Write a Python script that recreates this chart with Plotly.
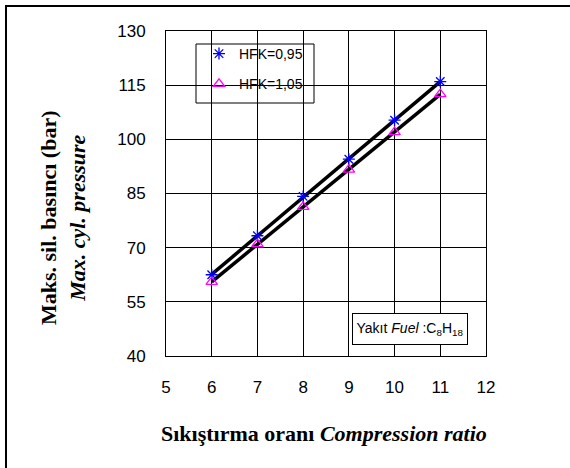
import numpy as np
import plotly.graph_objects as go

# Data
compression_ratio = [6, 7, 8, 9, 10, 11]
p_hfk_095 = [62.5, 73.3, 84.2, 94.5, 105.3, 116.0]
p_hfk_105 = [60.5, 71.0, 81.3, 91.6, 102.0, 112.5]
series_names = ["HFK=0,95", "HFK=1,05"]
x_ticks = [5, 6, 7, 8, 9, 10, 11, 12]
y_ticks = [40, 55, 70, 85, 100, 115, 130]

fig = go.Figure()

x_arr = np.array(compression_ratio, dtype=float)
for vals in (p_hfk_095, p_hfk_105):
    k, b = np.polyfit(x_arr, np.array(vals), 1)
    xs = [x_arr.min(), x_arr.max()]
    fig.add_trace(go.Scatter(x=xs, y=[k * v + b for v in xs], mode="lines",
                             line=dict(color="black", width=3.5),
                             showlegend=False, hoverinfo="skip"))

fig.add_trace(go.Scatter(x=compression_ratio, y=p_hfk_095, mode="markers",
                         name=series_names[0], legendgroup="a",
                         marker=dict(symbol="asterisk-open", size=10, color="#0000FF",
                                     line=dict(color="#0000FF", width=1.3))))
fig.add_trace(go.Scatter(x=compression_ratio, y=p_hfk_105, mode="markers",
                         name=series_names[1], legendgroup="b",
                         marker=dict(symbol="triangle-up-open", size=10,
                                     color="#FF00FF",
                                     line=dict(color="#FF00FF", width=1.3))))

L, R, T, B = 166, 84, 31, 112
W, H = 570, 468
pw, ph = W - L - R, H - T - B

def px(xp):
    return (xp - L) / pw

def py(yp):
    return (H - B - yp) / ph

shapes = [
    # legend box
    dict(type="rect", xref="paper", yref="paper", x0=px(196), x1=px(314),
         y0=py(103), y1=py(44), line=dict(color="black", width=1),
         fillcolor="white", layer="below"),
    # outer frame (left and top)
    dict(type="line", xref="paper", yref="paper", x0=px(6), x1=px(6),
         y0=py(470), y1=py(6), line=dict(color="black", width=2)),
    dict(type="line", xref="paper", yref="paper", x0=px(5), x1=px(575),
         y0=py(6), y1=py(6), line=dict(color="black", width=2)),
]

annotations = [
    dict(xref="paper", yref="paper", x=px(410), y=py(329), xanchor="center", yanchor="middle",
         text="Yakıt <i>Fuel</i> :C<sub>8</sub>H<sub>18</sub>", showarrow=False,
         font=dict(family="Liberation Sans, Arial", size=14, color="black"),
         bordercolor="black", borderwidth=1, bgcolor="white", borderpad=3,
         width=108, height=24),
    dict(xref="paper", yref="paper", x=px(324), y=py(433), xanchor="center", yanchor="middle",
         text="<b>Sıkıştırma oranı <i>Compression ratio</i></b>", showarrow=False,
         font=dict(family="Liberation Serif, Times New Roman", size=22, color="black")),
    dict(xref="paper", yref="paper", x=px(63), y=py(218), xanchor="center", yanchor="middle",
         text="<b>Maks. sil. basıncı (bar)</b><br><b><i>Max. cyl. pressure</i></b>",
         showarrow=False, textangle=-90,
         font=dict(family="Liberation Serif, Times New Roman", size=22, color="black")),
]

axis_common = dict(showgrid=True, gridcolor="black", gridwidth=1,
                   showline=True, linecolor="black", linewidth=1, mirror=True,
                   zeroline=False, ticks="",
                   tickfont=dict(family="Liberation Sans, Arial", size=17, color="black"))

fig.update_layout(
    width=W, height=H,
    margin=dict(l=L, r=R, t=T, b=B, pad=0),
    paper_bgcolor="white", plot_bgcolor="white",
    xaxis=dict(range=[5, 12], tickvals=x_ticks, ticklabelstandoff=16, **axis_common),
    yaxis=dict(range=[40, 130], tickvals=y_ticks, ticklabelstandoff=16, **axis_common),
    shapes=shapes, annotations=annotations,
    legend=dict(x=px(199), y=py(38), xanchor="left", yanchor="top",
                bgcolor="rgba(0,0,0,0)", borderwidth=0, tracegroupgap=9,
                traceorder="grouped",
                font=dict(family="Liberation Sans, Arial", size=14, color="black")),
    showlegend=True,
)

fig.write_html("out.html")
